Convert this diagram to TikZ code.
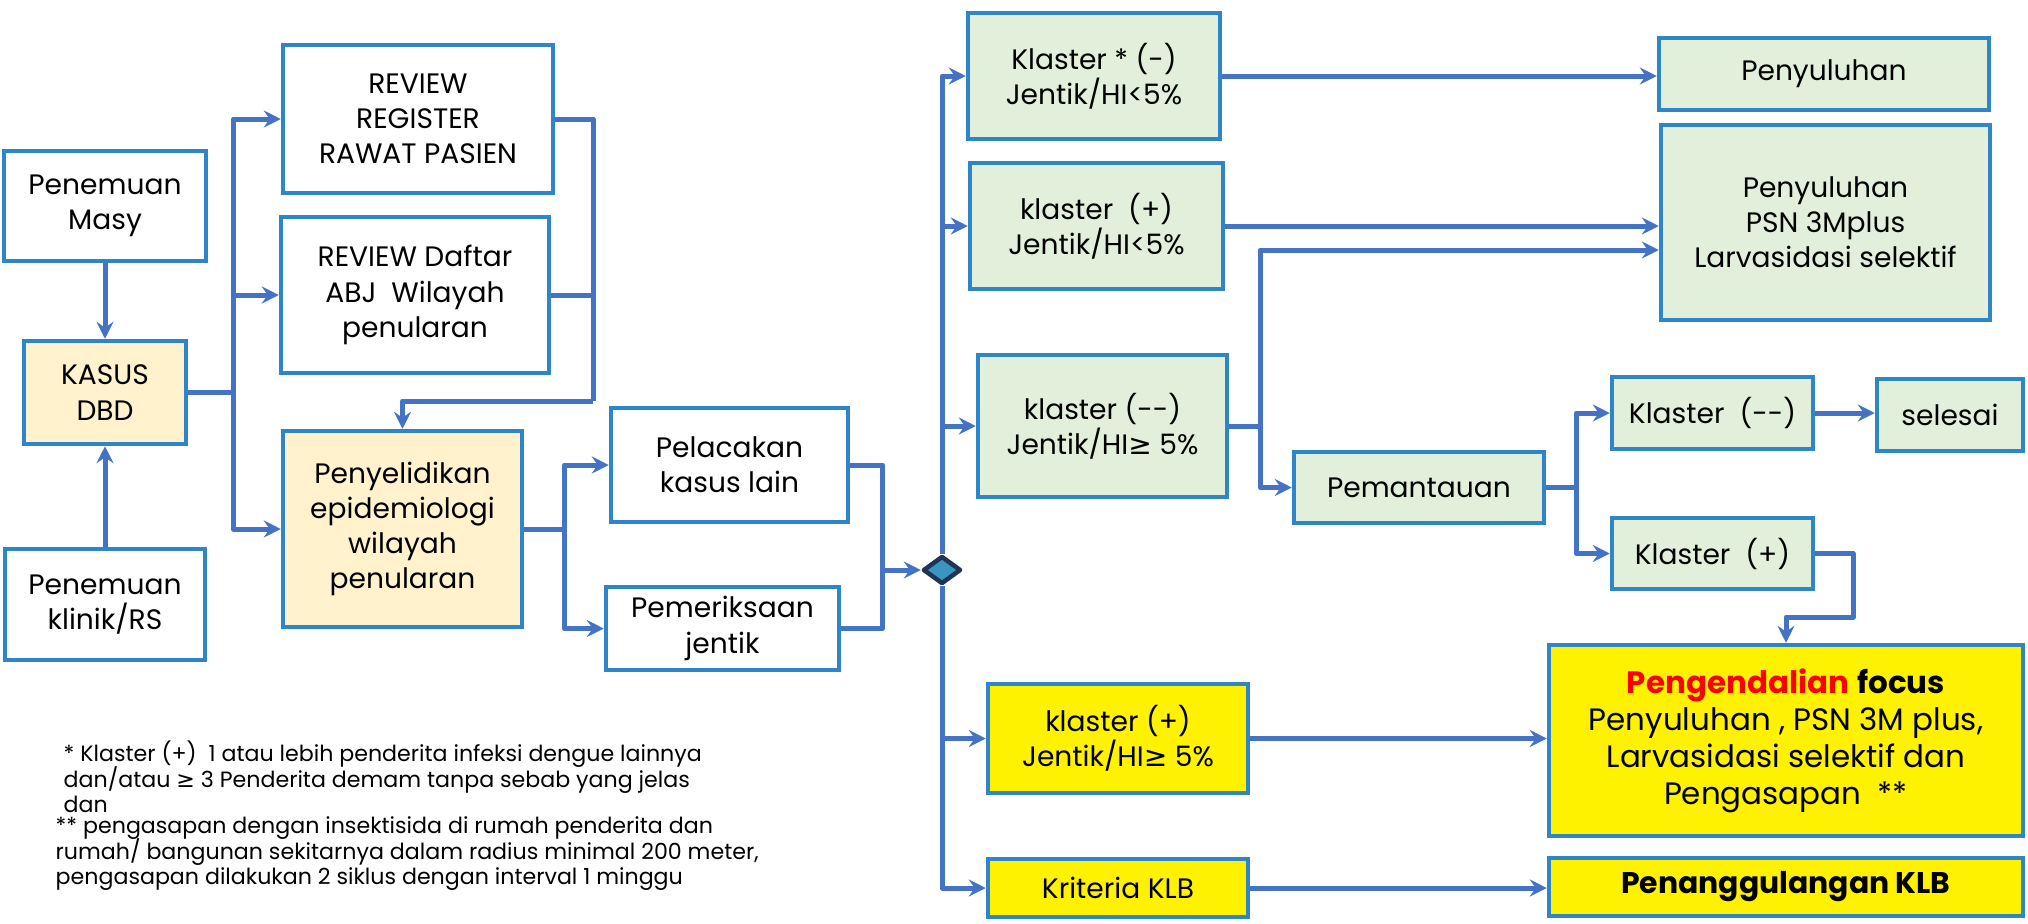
\documentclass[tikz,border=0pt]{standalone}
\usepackage{fontspec}
\setmainfont{Poppins}
\newfontfamily\symfont{DejaVu Sans}
\usepackage{tikz}
\usetikzlibrary{arrows.meta, shapes.geometric}

\definecolor{boxblue}{HTML}{2E86C8}
\definecolor{linkblue}{HTML}{4472C4}
\definecolor{creamfill}{HTML}{FFF2CC}
\definecolor{mintfill}{HTML}{E2EFDA}
\definecolor{diafill}{HTML}{3A96C0}
\definecolor{dianavy}{HTML}{1F3557}

\newcommand{\gesym}{{\symfont ≥}}
\newcommand{\catfont}{\fontsize{6.3}{7.3}\selectfont\lineskiplimit=-5pt\relax}

\begin{document}
\begin{tikzpicture}[
    >={Stealth[length=1.7mm, width=1.7mm, inset=0.6mm]},
    kotak/.style={draw=boxblue, line width=0.45mm, align=center, inner sep=1pt,
      font=\fontsize{8}{10}\selectfont},
    putih/.style={kotak, fill=white},
    krem/.style={kotak, fill=creamfill},
    hijau/.style={kotak, fill=mintfill},
    kuning/.style={kotak, fill=yellow},
    garis/.style={draw=linkblue, line width=0.5mm, line join=round},
    panah/.style={garis, ->},
    catatan/.style={align=left, inner sep=0pt, anchor=north west, font=\catfont}
  ]
  % Ukuran gambar
  \useasboundingbox (0,0) rectangle (20.28,-9.23);

  % Penemuan kasus
  \node[putih, minimum width=2.02cm, minimum height=1.10cm] (masy) at (1.05,-2.06) {Penemuan\\Masy};
  \node[krem, minimum width=1.62cm, minimum height=1.03cm] (kasus) at (1.05,-3.925) {KASUS\\DBD};
  \node[putih, minimum width=2.00cm, minimum height=1.11cm] (klinik) at (1.05,-6.045) {Penemuan\\klinik/RS};

  % Review dan penyelidikan
  \node[putih, minimum width=2.70cm, minimum height=1.48cm] (reg) at (4.18,-1.19) {REVIEW\\REGISTER\\RAWAT PASIEN};
  \node[putih, minimum width=2.68cm, minimum height=1.56cm] (abj) at (4.15,-2.95) {REVIEW Daftar\\ABJ~ Wilayah\\penularan};
  \node[krem, minimum width=2.39cm, minimum height=1.96cm] (pe) at (4.025,-5.29) {Penyelidikan\\epidemiologi\\wilayah\\penularan};
  \node[putih, minimum width=2.37cm, minimum height=1.14cm] (lacak) at (7.295,-4.65) {Pelacakan\\kasus lain};
  \node[putih, minimum width=2.33cm, minimum height=0.83cm] (periksa) at (7.225,-6.285) {Pemeriksaan\\jentik};

  % Titik keputusan
  \node[diamond, minimum width=0.38cm, minimum height=0.28cm, inner sep=0pt,
    draw=dianavy, fill=diafill, line width=0.45mm, line join=round] (dia) at (9.42,-5.70) {};

  % Hasil klaster
  \node[hijau, minimum width=2.52cm, minimum height=1.26cm] (k1) at (10.94,-0.76) {Klaster * (-)\\Jentik/HI<5\%};
  \node[hijau, minimum width=2.53cm, minimum height=1.26cm] (k2) at (10.965,-2.26) {klaster~ (+)\\Jentik/HI<5\%};
  \node[hijau, minimum width=2.49cm, minimum height=1.42cm] (k3) at (11.025,-4.26) {klaster (-{}-)\\Jentik/HI\gesym{} 5\%};
  \node[hijau, minimum width=2.50cm, minimum height=0.71cm] (pantau) at (14.19,-4.875) {Pemantauan};
  \node[kuning, minimum width=2.60cm, minimum height=1.09cm] (k4) at (11.18,-7.385) {klaster (+)\\Jentik/HI\gesym{} 5\%};
  \node[kuning, minimum width=2.60cm, minimum height=0.58cm] (klb) at (11.18,-8.88) {Kriteria KLB};

  % Tindakan
  \node[hijau, minimum width=3.30cm, minimum height=0.72cm] (suluh) at (18.24,-0.74) {Penyuluhan};
  \node[hijau, minimum width=3.29cm, minimum height=1.95cm] (psn) at (18.255,-2.225) {Penyuluhan\\PSN 3Mplus\\Larvasidasi selektif};
  \node[hijau, minimum width=2.01cm, minimum height=0.72cm] (kmin) at (17.125,-4.13) {Klaster~ (-{}-)};
  \node[hijau, minimum width=1.46cm, minimum height=0.72cm] (selesai) at (19.50,-4.15) {selesai};
  \node[hijau, minimum width=2.01cm, minimum height=0.71cm] (kplus) at (17.125,-5.535) {Klaster~ (+)};
  \node[kuning, minimum width=4.74cm, minimum height=1.91cm, font=\fontsize{8.8}{10.5}\selectfont] (fokus) at (17.86,-7.405)
    {{\bfseries\color{red}Pengendalian} {\bfseries focus}\\Penyuluhan , PSN 3M plus,\\Larvasidasi selektif dan\\Pengasapan~ **};
  \node[kuning, minimum width=4.74cm, minimum height=0.58cm, font=\fontsize{8.5}{10}\selectfont\bfseries] (tanggul) at (17.86,-8.87) {Penanggulangan KLB};

  % Catatan
  \node[catatan] (catatan) at (0.55,-7.40) {\hspace*{0.8mm}* Klaster (+)~ 1 atau lebih penderita infeksi dengue lainnya\\
    \hspace*{0.8mm}dan/atau \gesym{} 3 Penderita demam tanpa sebab yang jelas\\
    \hspace*{0.8mm}dan\\[-1.4pt]
    ** pengasapan dengan insektisida di rumah penderita dan\\
    rumah/ bangunan sekitarnya dalam radius minimal 200 meter,\\
    pengasapan dilakukan 2 siklus dengan interval 1 minggu};

  % Titik belok
  \coordinate (bus1) at ([xshift=4.5mm]kasus.east);
  \coordinate (bus2) at (5.93,-4.01);
  \coordinate (bus3) at ([xshift=4mm]pe.east);
  \coordinate (bus4) at ([xshift=-3.8mm]dia.west);
  \coordinate (bus5) at ([xshift=3.1mm]k3.east);
  \coordinate (bus6) at ([xshift=3mm]pantau.east);
  \coordinate (belok) at (18.53,-6.17);

  % Penemuan ke kasus
  \draw[panah] (masy) -- (kasus);
  \draw[panah] (klinik) -- (kasus);

  % Kasus ke review dan penyelidikan
  \draw[garis] (kasus.east) -- (bus1);
  \draw[panah] (bus1) |- (reg.west);
  \draw[panah] (bus1) |- (abj.west);
  \draw[panah] (bus1) |- (pe.west);

  % Review ke penyelidikan
  \draw[garis] (reg.east) -| (bus2);
  \draw[garis] (abj.east) -| (bus2);
  \draw[panah] (bus2) -| (pe.north);

  % Penyelidikan ke pelacakan dan pemeriksaan
  \draw[garis] (pe.east) -- (bus3);
  \draw[panah] (bus3) |- (lacak.west);
  \draw[panah] (bus3) |- (periksa.west);

  % Ke titik keputusan
  \draw[garis] (lacak.east) -| (bus4);
  \draw[garis] (periksa.east) -| (bus4);
  \draw[panah] (bus4) -- (dia.west);

  % Cabang klaster
  \draw[panah] (dia.north) |- (k1.west);
  \draw[panah] (dia.north) |- (k2.west);
  \draw[panah] (dia.north) |- (k3.west);
  \draw[panah] (dia.south) |- (k4.west);
  \draw[panah] (dia.south) |- (klb.west);

  % Klaster ke tindakan
  \draw[panah] (k1.east) -- (k1.east -| suluh.west);
  \draw[panah] (k2.east) -- (k2.east -| psn.west);
  \draw[garis] (k3.east) -- (bus5);
  \draw[panah] (bus5) |- ([yshift=-2.75mm]psn.west);
  \draw[panah] (bus5) |- (pantau.west);

  % Pemantauan
  \draw[garis] (pantau.east) -- (bus6);
  \draw[panah] (bus6) |- (kmin.west);
  \draw[panah] (bus6) |- (kplus.west);
  \draw[panah] (kmin.east) -- (kmin.east -| selesai.west);
  \draw[panah] (kplus.east) -| (belok) -| (fokus.north);

  % Klaster (+) dan KLB
  \draw[panah] (k4.east) -- (k4.east -| fokus.west);
  \draw[panah] (klb.east) -- (klb.east -| tanggul.west);
\end{tikzpicture}
\end{document}
